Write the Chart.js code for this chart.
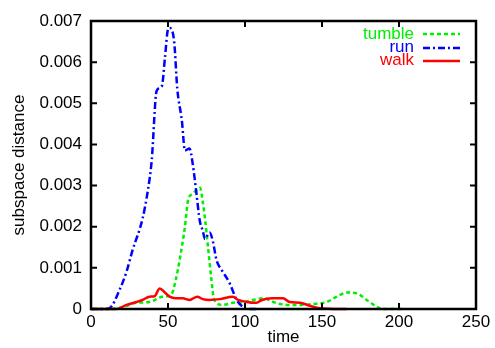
<!DOCTYPE html>
<html>
<head>
<meta charset="utf-8">
<script src="https://cdn.jsdelivr.net/npm/chart.js@4"></script>
<style>
  body { margin: 0; background: #fff; }
  canvas { display: block; }
</style>
</head>
<body>
<canvas id="chart" width="495" height="348"></canvas>
<script>
// Values
const tumbleT = [0, 12, 20.6, 29.6, 38, 46.5, 52, 55, 57.6, 61, 63, 66, 69, 70.8, 72.6, 74, 76, 78, 80, 85.7, 92, 98.7, 105, 112, 120, 127, 135.7, 144, 153, 159.6, 166, 172.6, 179, 185.7, 190, 203];
const tumble = [0, 0, 0.00005, 0.00015, 0.00017, 0.0003, 0.00034, 0.0007, 0.0012, 0.002, 0.00264, 0.0028, 0.0029, 0.00295, 0.0026, 0.0022, 0.0015, 0.00078, 0.00022, 0.0001, 0.00015, 0.00017, 0.00022, 0.00026, 0.00015, 0.0001, 0.0001, 0.00012, 0.00017, 0.0003, 0.0004, 0.00038, 0.00022, 0.00005, 0, 0];

const runT = [0, 8, 12, 18.5, 23, 27, 33.5, 37, 39.4, 42.6, 46, 48, 50, 51, 54, 56, 59, 61, 64, 66, 68.5, 70.6, 72.6, 74, 77, 79, 81.5, 85, 90, 94.6, 98.7, 101, 108];
const run = [0, 0, 0.00002, 0.00046, 0.0009, 0.00143, 0.0022, 0.0029, 0.0036, 0.0053, 0.00542, 0.0061, 0.0068, 0.00683, 0.0065, 0.00537, 0.00458, 0.00385, 0.0039, 0.00354, 0.0028, 0.00215, 0.0019, 0.0017, 0.00186, 0.00167, 0.00119, 0.00094, 0.00063, 0.00022, 0.00005, 0, 0];

const walkT = [0, 16.6, 23, 29.6, 33.5, 38, 41.3, 44.6, 48, 51, 55, 59.6, 64, 69, 72.6, 77, 83.7, 92, 95.6, 101, 107.5, 111, 117.5, 124.7, 129, 135.7, 142, 148.7, 166];
const walk = [0, 0, 0.0001, 0.00017, 0.00022, 0.0003, 0.00031, 0.0005, 0.0004, 0.0003, 0.00026, 0.00026, 0.00022, 0.0003, 0.00024, 0.00022, 0.00024, 0.0003, 0.00022, 0.00017, 0.00015, 0.00022, 0.00026, 0.00026, 0.00017, 0.00015, 0.00008, 0.00002, 0];

const xTicks = [0, 50, 100, 150, 200, 250];
const yTicks = [0, 0.001, 0.002, 0.003, 0.004, 0.005, 0.006, 0.007];

const FONT = 'Liberation Sans, Arial, sans-serif';
const FSIZE = 17;

const toPoints = (ts, vs) => ts.map((t, i) => ({ x: t, y: vs[i] }));

// frame with inward ticks, gnuplot style
const framePlugin = {
  id: 'frame',
  afterDraw(chart) {
    const { ctx, chartArea: a, scales } = chart;
    ctx.save();
    ctx.strokeStyle = '#000';
    ctx.lineWidth = 2.5;
    ctx.strokeRect(a.left, a.top, a.right - a.left, a.bottom - a.top);
    ctx.lineWidth = 2;
    ctx.beginPath();
    xTicks.forEach(v => {
      const px = scales.x.getPixelForValue(v);
      ctx.moveTo(px, a.bottom); ctx.lineTo(px, a.bottom - 6);
      ctx.moveTo(px, a.top); ctx.lineTo(px, a.top + 6);
    });
    yTicks.forEach(v => {
      const py = scales.y.getPixelForValue(v);
      ctx.moveTo(a.left, py); ctx.lineTo(a.left + 6, py);
      ctx.moveTo(a.right, py); ctx.lineTo(a.right - 6, py);
    });
    ctx.stroke();

    // legend: text right aligned, sample line to the right
    const rows = [
      { ds: 0, textY: 39, lineY: 34 },
      { ds: 1, textY: 52, lineY: 48 },
      { ds: 2, textY: 65, lineY: 61 }
    ];
    ctx.font = FSIZE + 'px ' + FONT;
    ctx.textAlign = 'right';
    ctx.textBaseline = 'alphabetic';
    rows.forEach(r => {
      const ds = chart.data.datasets[r.ds];
      ctx.fillStyle = ds.borderColor;
      ctx.fillText(ds.label, 414, r.textY);
      ctx.strokeStyle = ds.borderColor;
      ctx.lineWidth = ds.borderWidth;
      ctx.setLineDash(ds.borderDash || []);
      ctx.beginPath();
      ctx.moveTo(423, r.lineY);
      ctx.lineTo(460, r.lineY);
      ctx.stroke();
    });
    ctx.restore();
  }
};

new Chart(document.getElementById('chart'), {
  type: 'line',
  data: {
    datasets: [
      {
        label: 'tumble',
        data: toPoints(tumbleT, tumble),
        borderColor: '#00ee00',
        borderWidth: 2.5,
        borderDash: [4, 3],
        order: 3
      },
      {
        label: 'run',
        data: toPoints(runT, run),
        borderColor: '#0000ff',
        borderWidth: 2.5,
        borderDash: [7, 3, 2, 3],
        order: 2
      },
      {
        label: 'walk',
        data: toPoints(walkT, walk),
        borderColor: '#ff0000',
        borderWidth: 2.5,
        order: 1
      }
    ]
  },
  options: {
    responsive: false,
    animation: false,
    layout: { padding: { left: 0, right: 19, top: 21, bottom: 0 } },
    elements: {
      point: { radius: 0 },
      line: { cubicInterpolationMode: 'monotone', fill: false }
    },
    datasets: { line: { clip: 6 } },
    plugins: {
      legend: { display: false },
      tooltip: { enabled: false }
    },
    scales: {
      x: {
        type: 'linear',
        min: 0,
        max: 250,
        afterFit: s => { s.height = 39; },
        afterBuildTicks: s => { s.ticks = xTicks.map(v => ({ value: v })); },
        grid: { display: false, drawTicks: false },
        border: { display: false },
        ticks: { color: '#000', padding: 3, font: { family: FONT, size: FSIZE }, maxRotation: 0 },
        title: { display: true, text: 'time', color: '#000', padding: { top: 0, bottom: 0 }, font: { family: FONT, size: FSIZE } }
      },
      y: {
        min: 0,
        max: 0.007,
        afterFit: s => { s.width = 91; },
        afterBuildTicks: s => { s.ticks = yTicks.map(v => ({ value: v })); },
        grid: { display: false, drawTicks: false },
        border: { display: false },
        ticks: {
          color: '#000',
          padding: 9,
          font: { family: FONT, size: FSIZE },
          callback: v => v === 0 ? '0' : v.toFixed(3)
        },
        title: { display: true, text: 'subspace distance', color: '#000', padding: { top: 9, bottom: 0 }, font: { family: FONT, size: FSIZE } }
      }
    }
  },
  plugins: [framePlugin]
});
</script>
</body>
</html>
